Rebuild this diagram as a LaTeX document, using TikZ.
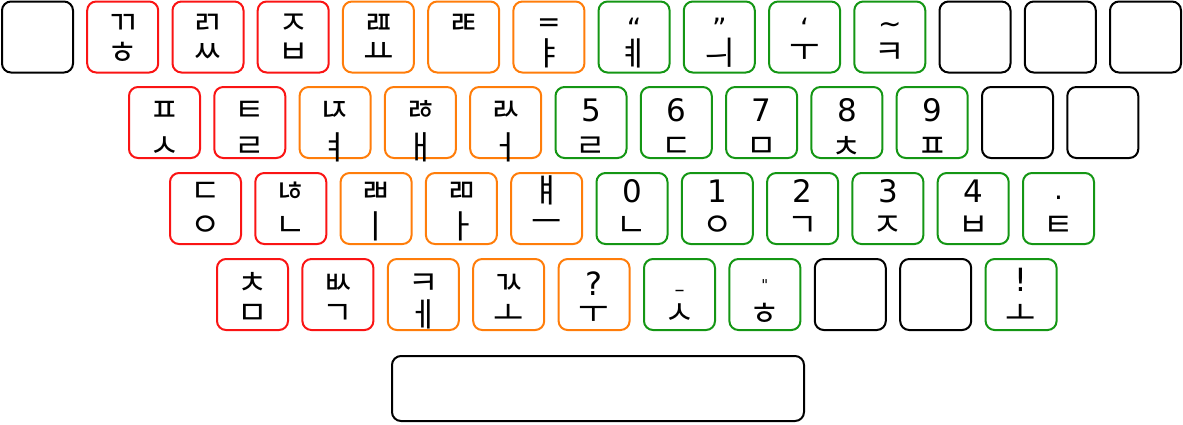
\documentclass[tikz,border=0pt]{standalone}
\usepackage{fontspec}
\setmainfont{Noto Sans CJK KR}
\newfontfamily\dv{DejaVu Sans}
\definecolor{kred}{RGB}{250,20,20}
\definecolor{korange}{RGB}{255,125,10}
\definecolor{kgreen}{RGB}{20,150,20}
\tikzset{
  keybox/.style={draw=#1, line width=2pt, rounded corners=9pt, minimum width=71pt, minimum height=71pt, inner sep=0pt},
  toptxt/.style={font=\fontsize{33}{34}\selectfont, inner sep=0pt, anchor=base},
  bottxt/.style={font=\fontsize{33}{34}\selectfont, inner sep=0pt, anchor=center}
}
\def\toff{0}
\def\boff{15}
\newcommand\kk[6]{%
  \node[keybox=#4] (#1) at (#2pt,-#3pt) {};
  \node[toptxt] (#1t) at ([yshift=\toff pt]#1.center) {#5};
  \node[bottxt] (#1b) at ([yshift=-\boff pt]#1.center) {#6};
}
\newcommand\dg[1]{{\dv\fontsize{31}{31}\selectfont #1}}
\newcommand\pc[2][0pt]{\raisebox{#1}{\dv\fontsize{28}{28}\selectfont #2}}
\newcommand\pb[2][0pt]{\raisebox{#1}{\dv\fontsize{32}{32}\selectfont #2}}
\begin{document}
\begin{tikzpicture}[x=1pt,y=1pt]
\useasboundingbox (0,0) rectangle (1183,-424);
% row 1
\def\toff{2.5}\def\boff{16}
\kk{a0}{37.5}{37}{black}{}{}
\kk{a1}{122.7}{37}{kred}{ㄲ}{ㅎ}
\kk{a2}{208.0}{37}{kred}{ㄺ}{ㅆ}
\kk{a3}{293.2}{37}{kred}{ㅈ}{ㅂ}
\kk{a4}{378.4}{37}{korange}{ㄿ}{ㅛ}
\kk{a5}{463.7}{37}{korange}{ㄾ}{}
\kk{a6}{548.9}{37}{korange}{\pc[3pt]{=}}{ㅑ}
\kk{a7}{634.1}{37}{kgreen}{\pc[-4pt]{“}}{ㅖ}
\kk{a8}{719.3}{37}{kgreen}{\pc[-4pt]{”}}{ㅢ}
\kk{a9}{804.6}{37}{kgreen}{\pc[-4pt]{‘}}{ㅜ}
\kk{a10}{889.8}{37}{kgreen}{\pc[1.5pt]{\char"007E}}{ㅋ}
\kk{a11}{975.0}{37}{black}{}{}
\kk{a12}{1060.3}{37}{black}{}{}
\kk{a13}{1145.5}{37}{black}{}{}
% row 2
\def\toff{1}\def\boff{25}
\kk{b1}{164.5}{122.5}{kred}{ㅍ}{ㅅ}
\kk{b2}{249.8}{122.5}{kred}{ㅌ}{ㄹ}
\kk{b3}{335.1}{122.5}{korange}{ㄵ}{ㅕ}
\kk{b4}{420.4}{122.5}{korange}{ㅀ}{ㅐ}
\kk{b5}{505.7}{122.5}{korange}{ㄽ}{ㅓ}
\kk{b6}{591.0}{122.5}{kgreen}{\dg{5}}{ㄹ}
\kk{b7}{676.3}{122.5}{kgreen}{\dg{6}}{ㄷ}
\kk{b8}{761.6}{122.5}{kgreen}{\dg{7}}{ㅁ}
\kk{b9}{846.9}{122.5}{kgreen}{\dg{8}}{ㅊ}
\kk{b10}{932.2}{122.5}{kgreen}{\dg{9}}{ㅍ}
\kk{b11}{1017.5}{122.5}{black}{}{}
\kk{b12}{1102.8}{122.5}{black}{}{}
% row 3
\def\toff{6}\def\boff{18}
\kk{c1}{205.5}{208.5}{kred}{ㄷ}{ㅇ}
\kk{c2}{290.8}{208.5}{kred}{ㄶ}{ㄴ}
\kk{c3}{376.1}{208.5}{korange}{ㄼ}{ㅣ}
\kk{c4}{461.4}{208.5}{korange}{ㄻ}{ㅏ}
\kk{c5}{546.7}{208.5}{korange}{ㅒ}{ㅡ}
\kk{c6}{632.0}{208.5}{kgreen}{\dg{0}}{ㄴ}
\kk{c7}{717.3}{208.5}{kgreen}{\dg{1}}{ㅇ}
\kk{c8}{802.6}{208.5}{kgreen}{\dg{2}}{ㄱ}
\kk{c9}{887.9}{208.5}{kgreen}{\dg{3}}{ㅈ}
\kk{c10}{973.2}{208.5}{kgreen}{\dg{4}}{ㅂ}
\kk{c11}{1058.5}{208.5}{kgreen}{\pc[-5pt]{·}}{ㅌ}
% row 4
\def\toff{0}\def\boff{20}
\kk{d1}{252.5}{294.5}{kred}{ㅊ}{ㅁ}
\kk{d2}{337.9}{294.5}{kred}{ㅄ}{ㄱ}
\kk{d3}{423.3}{294.5}{korange}{ㅋ}{ㅔ}
\kk{d4}{508.7}{294.5}{korange}{ㄳ}{ㅗ}
\kk{d5}{594.1}{294.5}{korange}{\pb[-1pt]{?}}{ㅜ}
\kk{d6}{679.5}{294.5}{kgreen}{\raisebox{-2pt}{\dv\fontsize{20}{20}\selectfont –}}{ㅅ}
\kk{d7}{764.9}{294.5}{kgreen}{\raisebox{4.5pt}{\dv\fontsize{15}{15}\selectfont "}}{ㅎ}
\kk{d8}{850.3}{294.5}{black}{}{}
\kk{d9}{935.7}{294.5}{black}{}{}
\kk{d10}{1021.1}{294.5}{kgreen}{\pb[3pt]{!}}{ㅗ}
% space bar
\node[keybox=black, minimum width=412pt, minimum height=65pt] (sp) at (598,-388.5) {};
\end{tikzpicture}
\end{document}
